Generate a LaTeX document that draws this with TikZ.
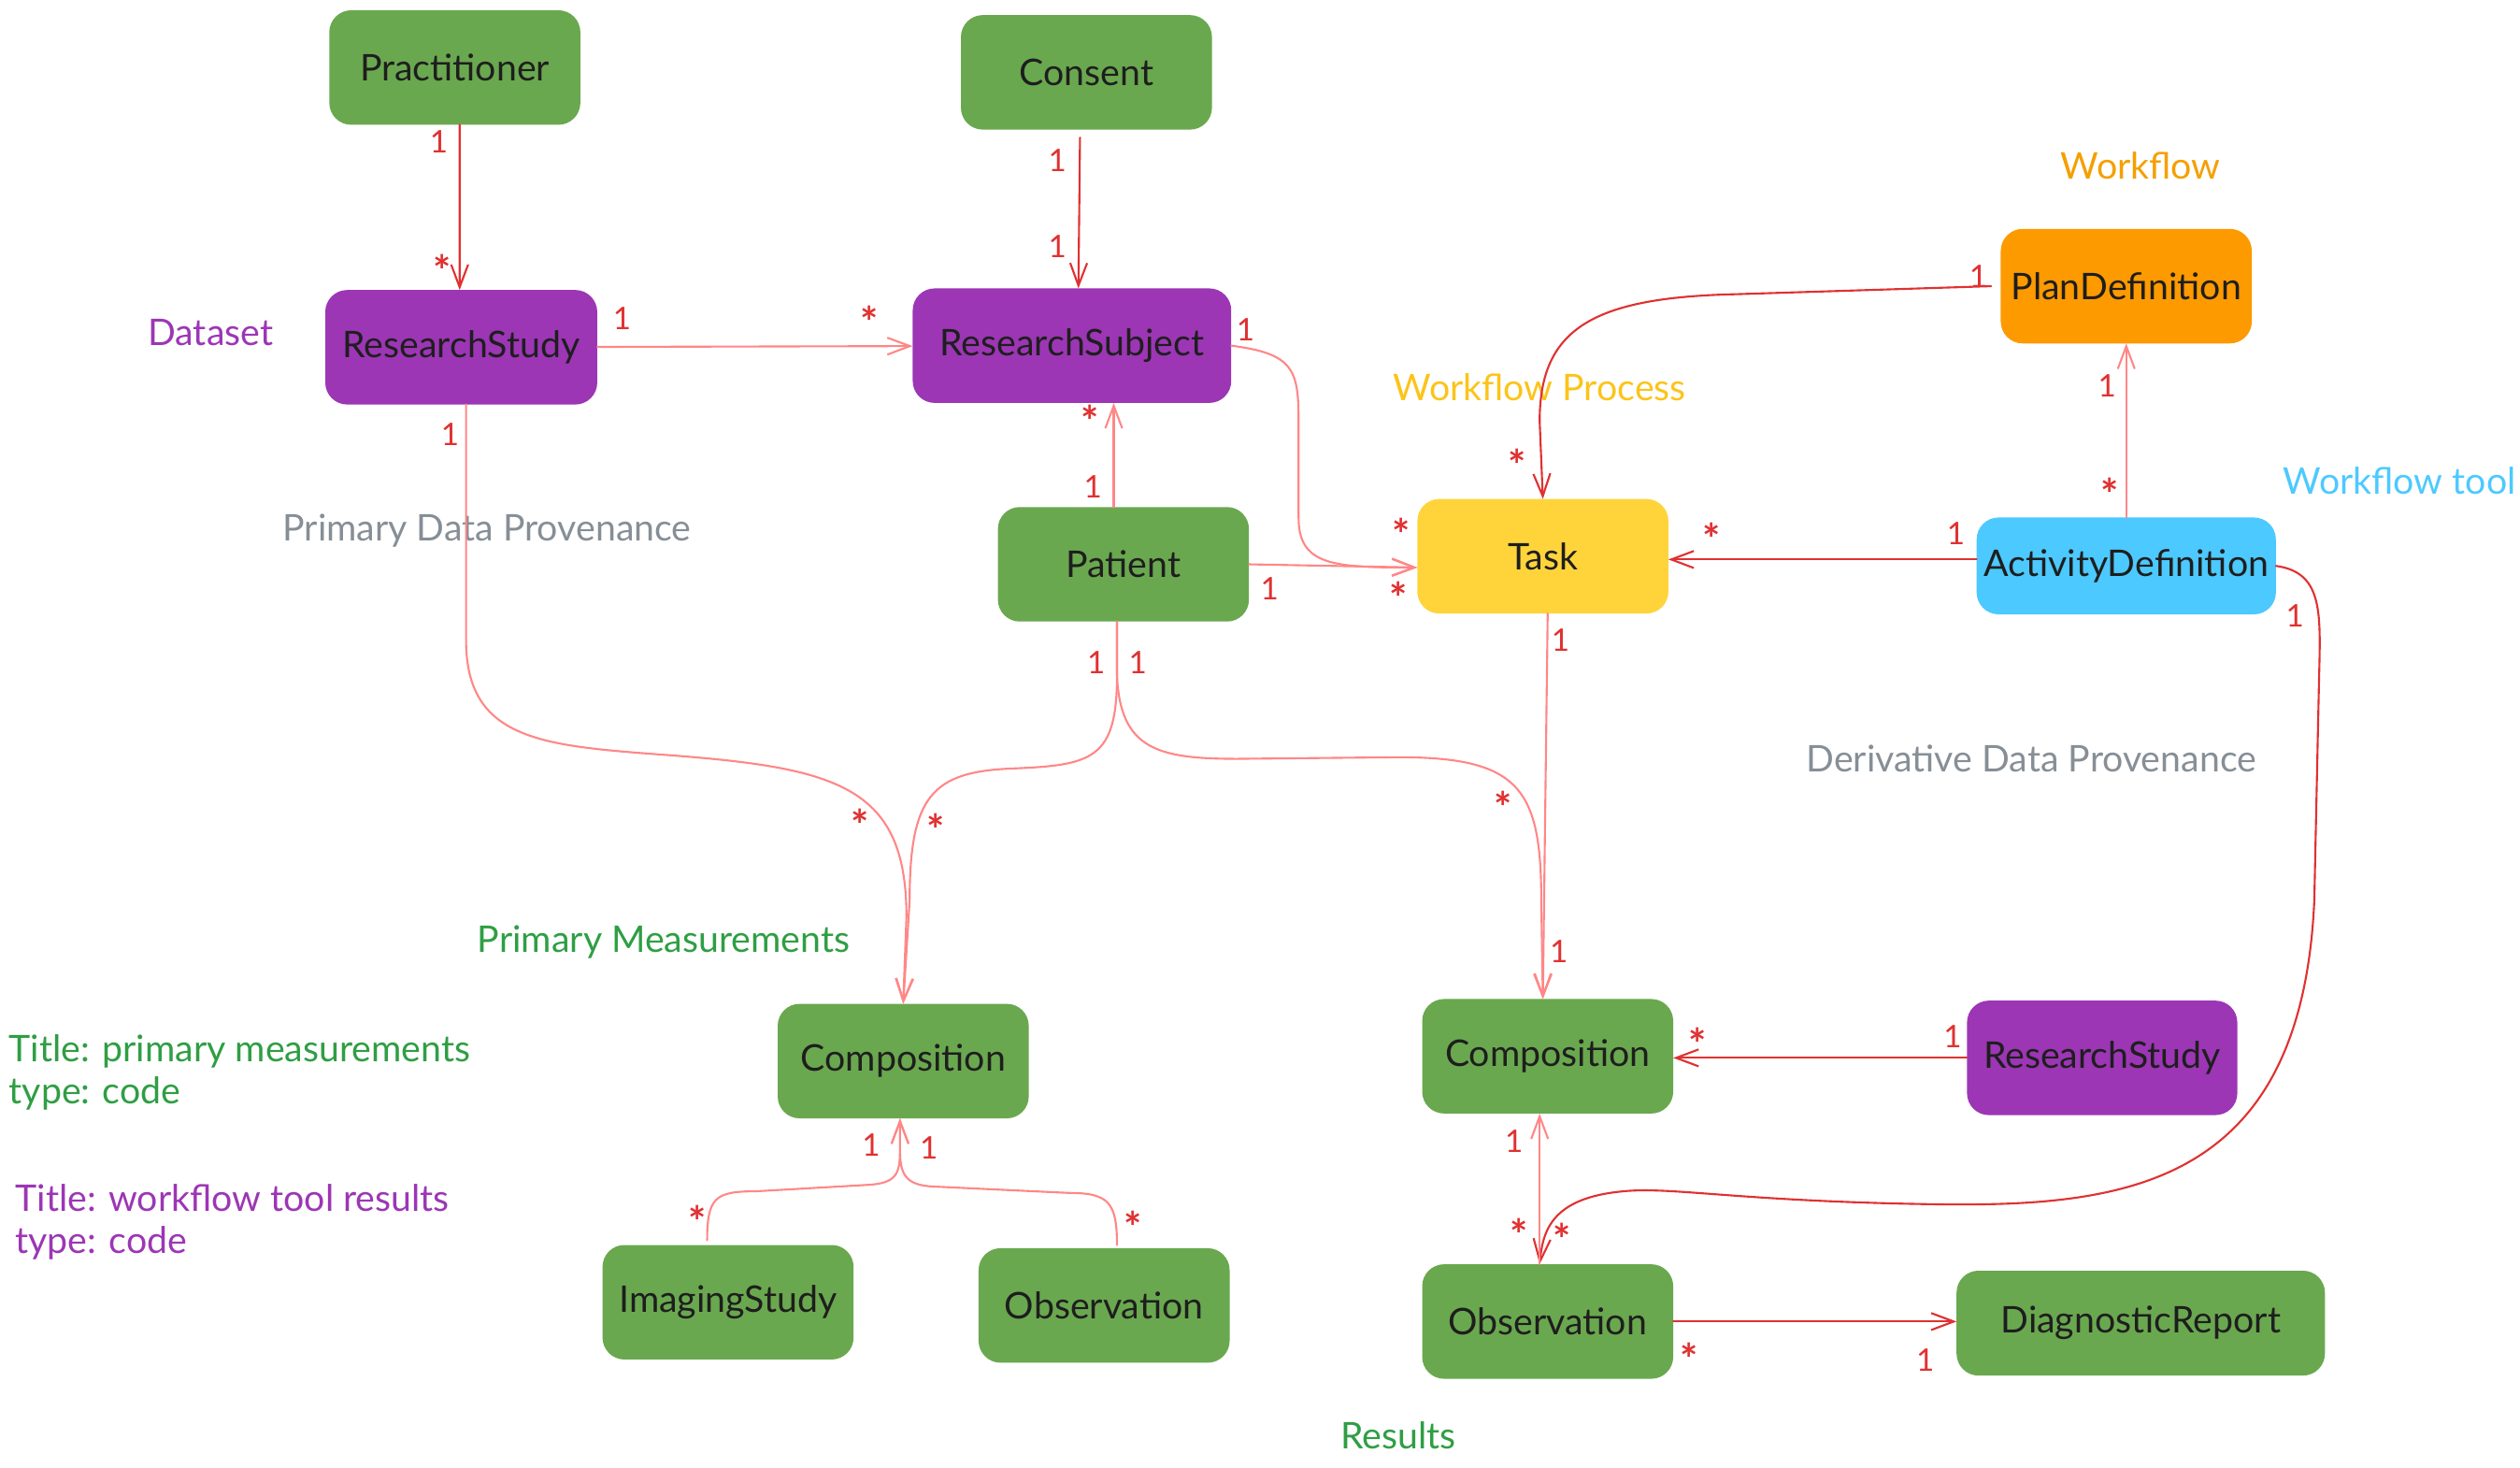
\documentclass[tikz,border=0pt]{standalone}
\usepackage{fontspec}
\setmainfont{Lato}
\usetikzlibrary{arrows.meta, calc}
\definecolor{figink}{HTML}{1E1E1E}
\definecolor{boxgreen}{HTML}{6AA84F}
\definecolor{boxpurple}{HTML}{9C36B5}
\definecolor{boxorange}{HTML}{FD9A00}
\definecolor{boxyellow}{HTML}{FFD43B}
\definecolor{boxblue}{HTML}{4CC9FE}
\definecolor{linedark}{HTML}{E03131}
\definecolor{linelight}{HTML}{FF8787}
\definecolor{txtgray}{HTML}{868E96}
\definecolor{txtgreen}{HTML}{2F9E44}
\definecolor{txtorange}{HTML}{F59F00}
\definecolor{txtyellow}{HTML}{FCC419}
\definecolor{txtblue}{HTML}{4DC9FF}
\newcommand\many{\raisebox{-0.5ex}{\fontsize{15}{15}\selectfont\bfseries *}}

\begin{document}
\begin{tikzpicture}[
  x=0.02cm, y=-0.02cm,
  line width=0.7pt, line cap=round, line join=round,
  >={Straight Barb[length=8pt, width=6pt]},
  box/.style = {draw=#1, fill=#1, rounded corners=0.26cm, line width=0.7pt,
                minimum width=3.1cm, minimum height=1.4cm, inner sep=2pt,
                anchor=center, text=figink, font=\fontsize{13}{15}\selectfont},
  dk/.style  = {draw=linedark},
  lt/.style  = {draw=linelight},
  mult/.style = {text=linedark, font=\fontsize{11}{13}\selectfont, inner sep=0pt},
  note/.style = {text=#1, font=\fontsize{13}{15}\selectfont, inner sep=0pt}
]
\useasboundingbox (0,0) rectangle (1568,913);

% Entitaeten
\node[box=boxgreen]  (prac)     at (283,42)  {Practitioner};
\node[box=boxgreen]  (consent)  at (676,45)  {Consent};
\node[box=boxpurple, minimum width=3.36cm] (rstudy) at (287,216) {ResearchStudy};
\node[box=boxpurple, minimum width=3.94cm] (rsubj)  at (667,215) {ResearchSubject};
\node[box=boxorange] (plandef)  at (1323,178) {PlanDefinition};
\node[box=boxgreen]  (patient)  at (699,351) {Patient};
\node[box=boxyellow] (task)     at (960,346) {Task};
\node[box=boxblue, minimum width=3.7cm, minimum height=1.18cm] (actdef) at (1323,352) {ActivityDefinition};
\node[box=boxgreen]  (compL)    at (562,660) {Composition};
\node[box=boxgreen]  (compR)    at (963,657) {Composition};
\node[box=boxpurple, minimum width=3.34cm] (rstudyR) at (1308,658) {ResearchStudy};
\node[box=boxgreen]  (imaging)  at (453,810) {ImagingStudy};
\node[box=boxgreen]  (obsL)     at (687,812) {Observation};
\node[box=boxgreen]  (obsR)     at (963,822) {Observation};
\node[box=boxgreen, minimum width=4.56cm, minimum height=1.28cm] (diag) at (1332,823) {DiagnosticReport};

% Bereiche
\node[note=boxpurple] (tDataset)  at (131,207) {Dataset};
\node[note=txtgray]   (tPrimProv) at (303,330) {Primary Data Provenance};
\node[note=txtorange] (tWorkflow) at (1332,103) {Workflow};
\node[note=txtyellow] (tProcess)  at (958,241) {Workflow Process};
\node[note=txtblue]   (tTool)     at (1493,299) {Workflow tool};
\node[note=txtgray]   (tDerProv)  at (1264,472) {Derivative Data Provenance};
\node[note=txtgreen]  (tPrimMeas) at (413,586) {Primary Measurements};
\node[note=txtgreen, anchor=west, align=left]  (tTitleA) at (5,667) {Title: primary measurements\\type: code};
\node[note=boxpurple, anchor=west, align=left] (tTitleB) at (9,760) {Title: workflow tool results\\type: code};
\node[note=txtgreen]  (tResults)  at (870,893) {Results};

% Verbindungen oben
\draw[dk,->] ([xshift=0.06cm]prac.south) -- ([xshift=-0.02cm]rstudy.north);
\draw[dk,->] ([xshift=-0.08cm,yshift=-0.1cm]consent.south) -- ([xshift=0.08cm]rsubj.north);
\draw[lt,->] (rstudy) -- (rsubj);
\draw[lt,->] ([xshift=-0.12cm]patient.north) -- ([xshift=-0.12cm]patient.north |- rsubj.south);
\draw[lt,->] (rsubj.east) .. controls (805,220) and (808,230) .. (808,262)
  -- (808,322) .. controls (808,352) and (830,353) .. ([yshift=-0.14cm]task.west);
\draw[lt,->] (patient.east) -- ([yshift=-0.14cm]task.west);
\draw[dk,->] ([xshift=-0.12cm]plandef.west) -- (1080,183) .. controls (990,185) and (958,205) .. (958,262)
  -- (task.north);
\draw[dk,->] ([yshift=0.08cm]actdef.west) -- ([yshift=0.08cm]actdef.west -| task.east);
\draw[lt,->] (actdef.north) -- (plandef.south);

% Verbindungen Mitte
\draw[lt,->] ([xshift=0.06cm]rstudy.south) -- (290,400) .. controls (291,462) and (340,464) .. (420,470)
  .. controls (522,478) and (564,490) .. (564,570) -- (compL.north);
\draw[lt,->] ([xshift=-0.08cm]patient.south) -- (695,420) .. controls (695,472) and (680,476) .. (630,478)
  .. controls (580,480) and (566,495) .. (566,560) -- (compL.north);
\draw[lt,->] ([xshift=-0.08cm]patient.south) -- (695,420) .. controls (697,466) and (720,472) .. (770,472)
  -- (870,471) .. controls (945,471) and (959,490) .. (959,560) -- ([xshift=-0.06cm]compR.north);
\draw[lt,->] ([xshift=0.06cm]task.south) -- ([xshift=-0.06cm]compR.north);
\draw[dk,->] (actdef.east) .. controls (1445,356) and (1444,380) .. (1443,420) -- (1440,560)
  .. controls (1432,740) and (1320,751) .. (1200,749) .. controls (1080,747) and (1040,738) .. (1010,741)
  .. controls (966,745) and (960,765) .. ([xshift=-0.1cm]obsR.north);

% Verbindungen unten
\draw[dk,->] (rstudyR.west) -- (rstudyR.west -| compR.east);
\draw[lt,->] ([xshift=-0.1cm]obsR.north) -- ([xshift=-0.1cm]compR.south);
\draw[lt,->] ([xshift=-0.26cm,yshift=0.06cm]imaging.north) .. controls (440,745) and (445,741) .. (470,741)
  -- (540,737) .. controls (558,736) and (560,730) .. (560,715) -- ([xshift=-0.04cm]compL.south);
\draw[lt,->] ([xshift=0.16cm,yshift=0.04cm]obsL.north) .. controls (695,748) and (690,742) .. (665,742)
  -- (580,738) .. controls (563,737) and (560,730) .. (560,715) -- ([xshift=-0.04cm]compL.south);
\draw[dk,->] (obsR.east) -- (obsR.east -| diag.west);

% Multiplizitaeten
\node[mult] (m01) at (273,88)   {1};
\node[mult] (m02) at (275,168)  {\many};
\node[mult] (m03) at (658,100)  {1};
\node[mult] (m04) at (658,153)  {1};
\node[mult] (m05) at (387,198)  {1};
\node[mult] (m06) at (541,200)  {\many};
\node[mult] (m07) at (678,262)  {\many};
\node[mult] (m08) at (680,303)  {1};
\node[mult] (m09) at (775,205)  {1};
\node[mult] (m10) at (872,332)  {\many};
\node[mult] (m11) at (790,366)  {1};
\node[mult] (m12) at (870,372)  {\many};
\node[mult] (m13) at (1231,172) {1};
\node[mult] (m14) at (944,289)  {\many};
\node[mult] (m15) at (1217,332) {1};
\node[mult] (m16) at (1065,335) {\many};
\node[mult] (m17) at (1311,240) {1};
\node[mult] (m18) at (1313,307) {\many};
\node[mult] (m19) at (1428,383) {1};
\node[mult] (m20) at (972,771)  {\many};
\node[mult] (m21) at (280,270)  {1};
\node[mult] (m22) at (535,513)  {\many};
\node[mult] (m23) at (682,412)  {1};
\node[mult] (m24) at (582,516)  {\many};
\node[mult] (m25) at (708,412)  {1};
\node[mult] (m26) at (935,502)  {\many};
\node[mult] (m27) at (971,398)  {1};
\node[mult] (m28) at (970,592)  {1};
\node[mult] (m29) at (1215,645) {1};
\node[mult] (m30) at (1056,649) {\many};
\node[mult] (m31) at (942,710)  {1};
\node[mult] (m32) at (945,768)  {\many};
\node[mult] (m33) at (434,760)  {\many};
\node[mult] (m34) at (542,712)  {1};
\node[mult] (m35) at (705,763)  {\many};
\node[mult] (m36) at (578,714)  {1};
\node[mult] (m37) at (1051,845) {\many};
\node[mult] (m38) at (1198,846) {1};

\end{tikzpicture}
\end{document}
